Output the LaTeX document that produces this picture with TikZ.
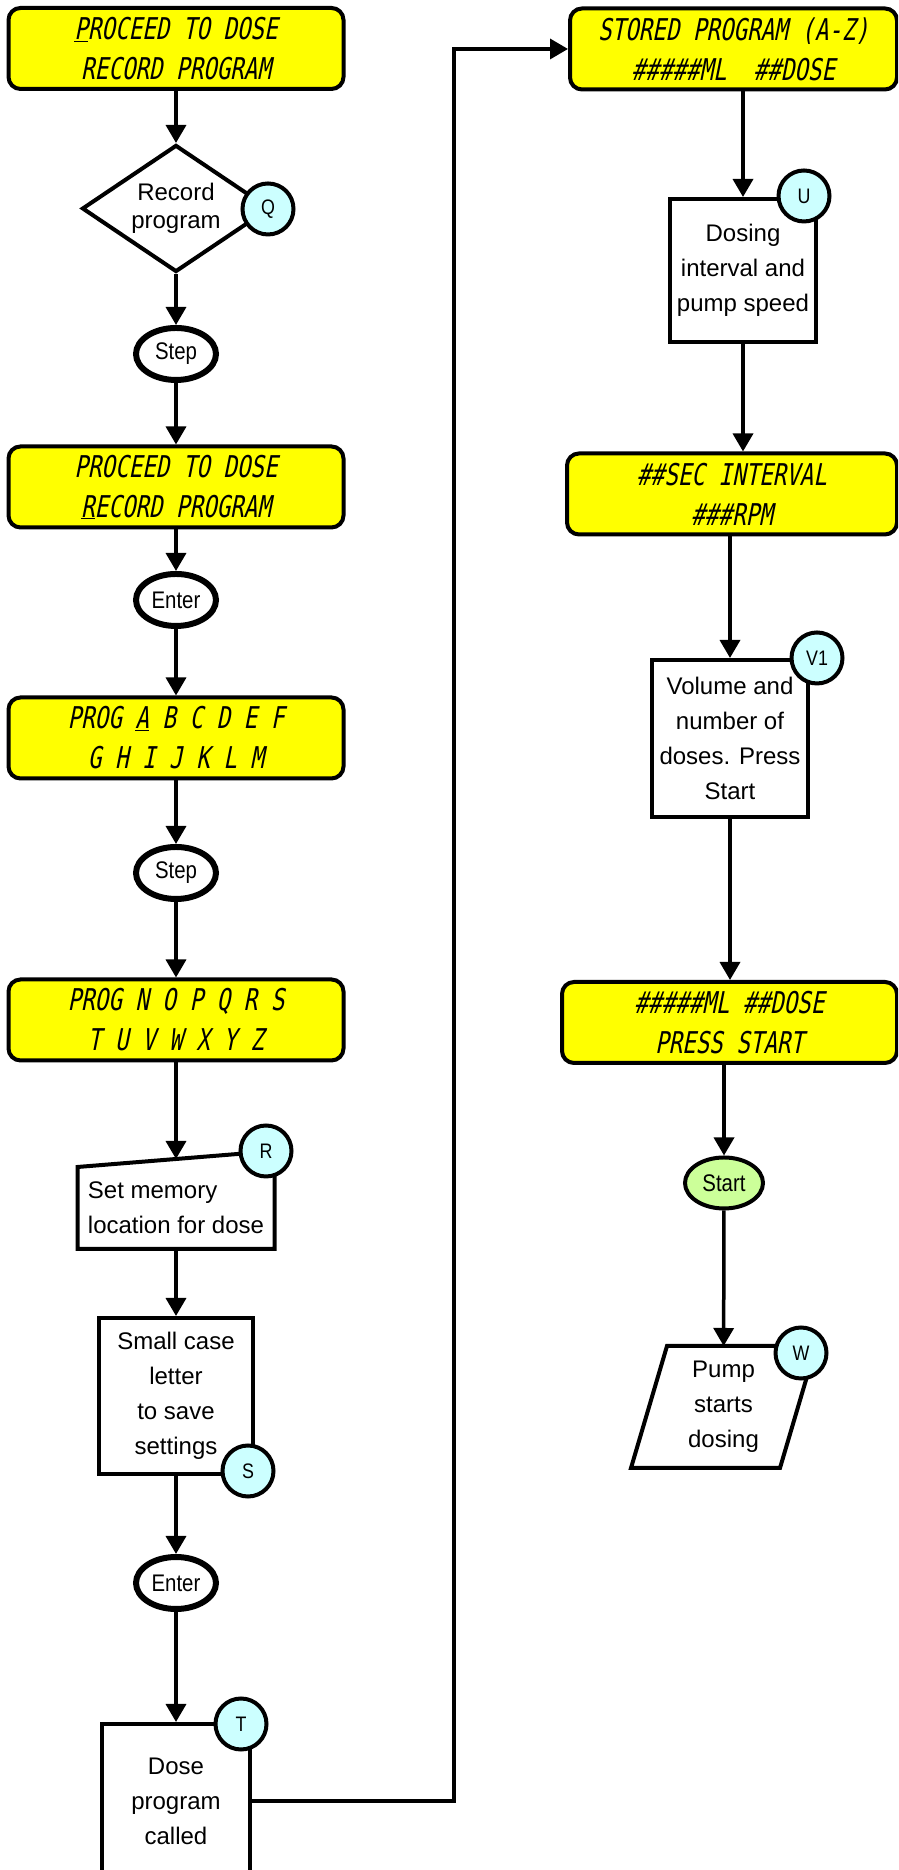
\documentclass[tikz,border=0pt]{standalone}
\usepackage{fontspec}
\setmainfont{Liberation Sans}
\newfontfamily\narrowfont[FakeStretch=0.85]{Liberation Sans}
\newfontfamily\lcdfont[FakeStretch=0.75,FakeSlant=0.2]{DejaVu Sans Mono}
\usetikzlibrary{arrows.meta,shapes.geometric,calc}
\definecolor{lcdyellow}{RGB}{255,255,0}
\definecolor{tagcyan}{RGB}{204,255,255}
\definecolor{startgreen}{RGB}{204,255,153}

\begin{document}
\begin{tikzpicture}[x=1pt,y=1pt,
    lcd/.style={draw, line width=4pt, fill=lcdyellow, rounded corners=12pt,
        minimum width=335pt, minimum height=81pt, align=center,
        font=\lcdfont\fontsize{30}{40}\selectfont},
    box/.style={draw, line width=4pt, fill=white, align=center, inner sep=4pt,
        font=\fontsize{24}{35}\selectfont},
    key/.style={ellipse, draw, line width=6pt, fill=white, minimum width=80pt,
        minimum height=52pt, inner sep=0pt, font=\narrowfont\fontsize{24}{28}\selectfont},
    tag/.style={circle, draw, line width=4pt, fill=tagcyan, minimum size=51pt,
        inner sep=0pt, font=\narrowfont\fontsize{21}{22}\selectfont},
    flow/.style={line width=3.5pt, -{Triangle[length=18pt,width=20pt]}}]
    \useasboundingbox (0,0) rectangle (898,1870);
    \clip (0,0) rectangle (898,1870);

    % Left column
    \node[lcd] (lcdA) at (176,1821.5) {\underline{P}ROCEED TO DOSE\\RECORD PROGRAM};
    \node[diamond, draw, line width=4pt, fill=white, aspect=1.48, minimum width=188pt,
        minimum height=127pt, inner sep=0pt, align=center,
        font=\fontsize{24}{28}\selectfont] (rec) at (176,1661.5) {Record\\program};
    \node[key] (stepA) at (176,1516) {Step};
    \node[lcd] (lcdB) at (176,1383) {PROCEED TO DOSE\\\underline{R}ECORD PROGRAM};
    \node[key] (enterA) at (176,1270) {Enter};
    \node[lcd] (lcdC) at (176,1132) {PROG \underline{A} B C D E F\\G H I J K L M};
    \node[key] (stepB) at (176,997) {Step};
    \node[lcd] (lcdD) at (176,850) {PROG N O P Q R S\\T U V W X Y Z};
    \node[box, draw=none, align=left, minimum width=193pt, minimum height=78pt] (mem)
        at (176,662) {Set memory\\location for dose};
    \draw[line width=4pt] (mem.south west) -- (mem.south east)
        -- ([yshift=16pt]mem.north east) -- (mem.north west) -- cycle;
    \coordinate (memtop) at ([yshift=8pt]mem.north);
    \node[box, minimum width=154pt, minimum height=156pt] (small) at (176,474)
        {Small case\\letter\\to save\\settings};
    \node[key] (enterB) at (176,287) {Enter};
    \node[box, minimum width=148pt, minimum height=154pt] (dose) at (176,69)
        {Dose\\program\\called};

    % Right column
    \node[lcd, minimum width=327pt] (lcdE) at (733.5,1821) {STORED PROGRAM (A-Z)\\\#\#\#\#\#ML~~\#\#DOSE};
    \node[box, minimum width=146pt, minimum height=143pt] (dosing) at (743,1599.5)
        {Dosing\\interval and\\pump speed};
    \node[lcd, minimum width=330pt] (lcdF) at (732,1376) {\#\#SEC INTERVAL\\\#\#\#RPM};
    \node[box, minimum width=156pt, minimum height=157pt] (vol) at (730,1131.5)
        {Volume and\\number of\\doses. Press\\Start};
    \node[lcd] (lcdG) at (729.5,847.5) {\#\#\#\#\#ML \#\#DOSE\\PRESS START};
    \node[key, fill=startgreen, line width=4pt, minimum width=78pt, minimum height=51pt]
        (start) at (724,687) {Start};
    \node[box, draw=none, minimum width=145pt, minimum height=118pt] (pump)
        at (723.5,463) {Pump\\starts\\dosing};
    \draw[line width=4pt] ([xshift=-18pt]pump.south west) -- ([xshift=-18pt]pump.south east)
        -- ([xshift=18pt]pump.north east) -- ([xshift=18pt]pump.north west) -- cycle;

    % Connectors
    \draw[flow] (lcdA) -- (rec);
    \draw[flow] (rec) -- (stepA);
    \draw[flow] (stepA) -- (lcdB);
    \draw[flow] (lcdB) -- (enterA);
    \draw[flow] (enterA) -- (lcdC);
    \draw[flow] (lcdC) -- (stepB);
    \draw[flow] (stepB) -- (lcdD);
    \draw[flow] (lcdD.south) -- (memtop);
    \draw[flow] (mem) -- (small);
    \draw[flow] (small) -- (enterB);
    \draw[flow] (enterB) -- (dose);
    \draw[flow] (dose.east) -- ++(202,0) |- (lcdE.west);
    \draw[flow] (lcdE.south -| dosing.north) -- (dosing.north);
    \draw[flow] (dosing.south) -- (dosing.south |- lcdF.north);
    \draw[flow] (lcdF.south -| vol.north) -- (vol.north);
    \draw[flow] (vol.south) -- (vol.south |- lcdG.north);
    \draw[flow] (lcdG.south -| start.north) -- (start.north);
    \draw[flow] (start) -- (pump);

    % Tags
    \node[tag] (tagQ) at (268,1661) {Q};
    \node[tag] (tagR) at (266,719) {R};
    \node[tag] (tagS) at (248,399) {S};
    \node[tag] (tagT) at (241,146) {T};
    \node[tag] (tagU) at (804,1674) {U};
    \node[tag] (tagV) at (817,1212) {V1};
    \node[tag] (tagW) at (801,517) {W};
\end{tikzpicture}
\end{document}
